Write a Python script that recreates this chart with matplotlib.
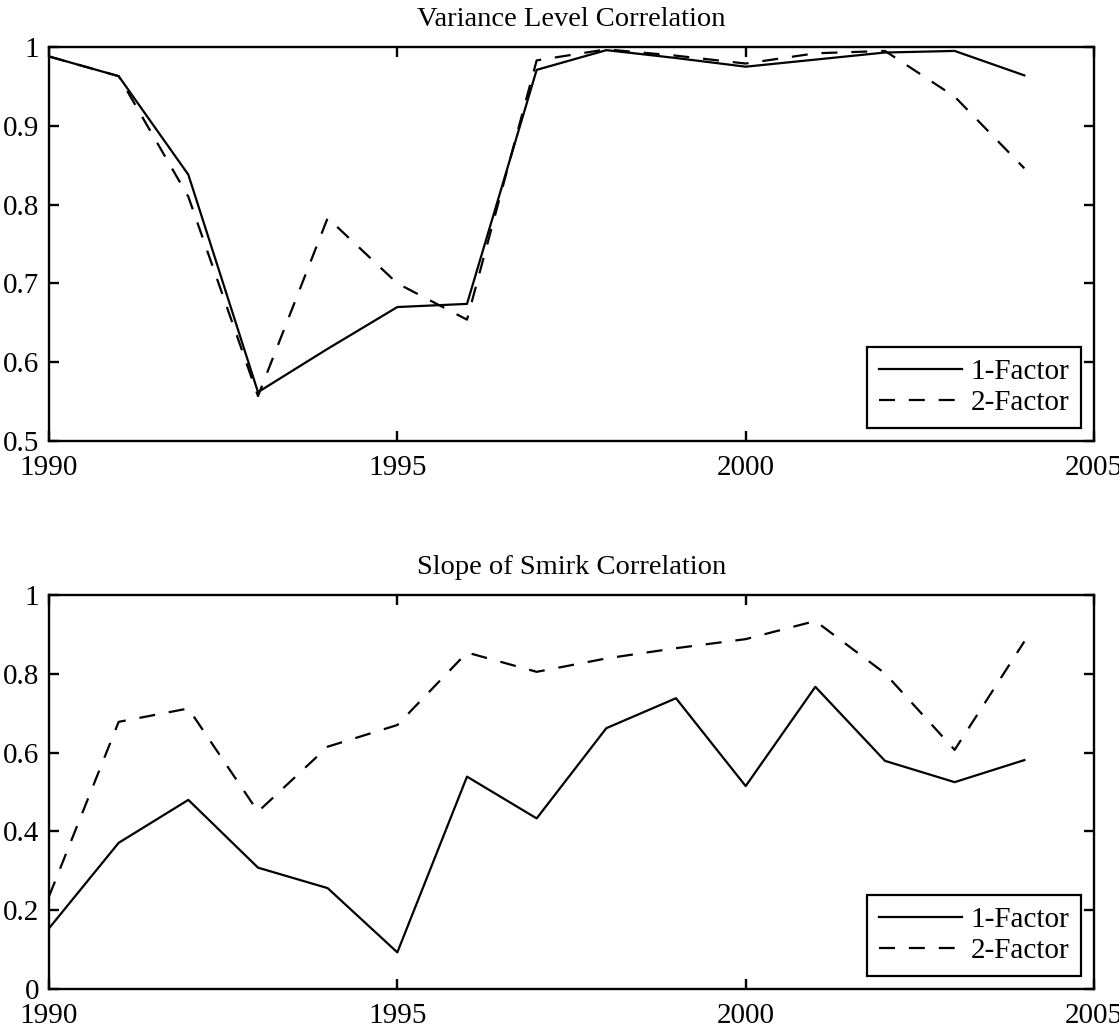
import matplotlib
matplotlib.use("Agg")
import matplotlib.pyplot as plt

plt.rcParams["font.family"] = ["Liberation Serif", "DejaVu Serif"]
plt.rcParams["lines.scale_dashes"] = False

years = list(range(1990, 2005))

# Variance level correlation
level_1f = [0.988, 0.963, 0.838, 0.562, 0.617, 0.670, 0.674, 0.971, 0.996,
            0.986, 0.975, 0.984, 0.993, 0.995, 0.964]
level_2f = [0.988, 0.963, 0.810, 0.557, 0.783, 0.700, 0.654, 0.983, 0.997,
            0.989, 0.979, 0.992, 0.995, 0.937, 0.846]

# Slope of smirk correlation
slope_1f = [0.154, 0.371, 0.480, 0.308, 0.256, 0.093, 0.539, 0.433, 0.662,
            0.738, 0.515, 0.767, 0.579, 0.525, 0.581]
slope_2f = [0.235, 0.678, 0.712, 0.450, 0.615, 0.670, 0.854, 0.805, 0.839,
            0.865, 0.888, 0.934, 0.801, 0.607, 0.882]

x_ticks = [1990, 1995, 2000, 2005]
level_yticks = [0.5, 0.6, 0.7, 0.8, 0.9, 1.0]
level_ylabels = ["0.5", "0.6", "0.7", "0.8", "0.9", "1"]
slope_yticks = [0, 0.2, 0.4, 0.6, 0.8, 1.0]
slope_ylabels = ["0", "0.2", "0.4", "0.6", "0.8", "1"]
series_names = ["1-Factor", "2-Factor"]

W, H = 1119, 1027
fig = plt.figure(figsize=(W / 100, H / 100), dpi=100)

ax_left = 49 / W
ax_width = (1094 - 49) / W
ax_height = (441 - 47) / H
ax1 = fig.add_axes([ax_left, 1 - 441 / H, ax_width, ax_height])
ax2 = fig.add_axes([ax_left, 1 - 989 / H, ax_width, ax_height])

FS = 21
TITLE_FS = 20.5
LW = 1.6
DASH = (0, (11.5, 10))


def style(ax, title, yticks, ylabels, ylim):
    ax.set_xlim(1990, 2005)
    ax.set_ylim(*ylim)
    ax.set_xticks(x_ticks)
    ax.set_xticklabels([str(t) for t in x_ticks], fontsize=FS)
    ax.set_yticks(yticks)
    ax.set_yticklabels(ylabels, fontsize=FS)
    ax.tick_params(direction="in", length=7.5, width=1.7,
                   top=True, right=True, color="black")
    ax.tick_params(axis="x", pad=10)
    ax.tick_params(axis="y", pad=7)
    for sp in ax.spines.values():
        sp.set_linewidth(1.7)
        sp.set_color("black")
    ax.set_title(title, fontsize=TITLE_FS, pad=15)
    leg = ax.legend(loc="lower right", fontsize=FS, frameon=True,
                    fancybox=False, handlelength=2.85, handletextpad=0.3,
                    borderpad=0.4, labelspacing=0.17, borderaxespad=0.45)
    fr = leg.get_frame()
    fr.set_edgecolor("black")
    fr.set_linewidth(1.6)
    fr.set_alpha(1)


ax1.plot(years, level_1f, color="black", lw=LW, label=series_names[0])
ax1.plot(years, level_2f, color="black", lw=LW, linestyle=DASH,
         label=series_names[1])
style(ax1, "Variance Level Correlation", level_yticks, level_ylabels, (0.5, 1.0))

ax2.plot(years, slope_1f, color="black", lw=LW, label=series_names[0])
ax2.plot(years, slope_2f, color="black", lw=LW, linestyle=DASH,
         label=series_names[1])
style(ax2, "Slope of Smirk Correlation", slope_yticks, slope_ylabels, (0, 1.0))

fig.savefig("out.png", dpi=100)
